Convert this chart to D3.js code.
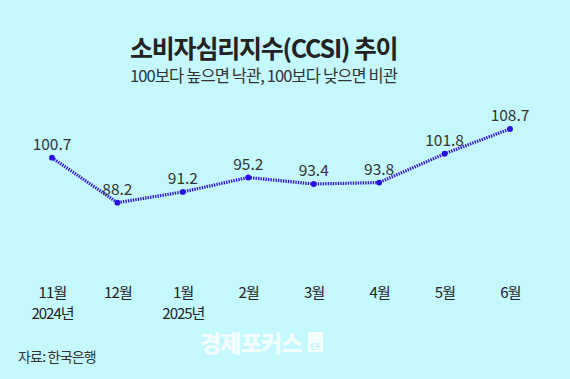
<!DOCTYPE html>
<html><head><meta charset="utf-8">
<script src="https://cdn.jsdelivr.net/npm/d3@7"></script>
<style>
html,body{margin:0;padding:0;background:#c4f8fc;}
svg{display:block;}
text{font-family:"Noto Sans CJK KR","Noto Sans",sans-serif;}
</style></head>
<body>
<svg id="chart" width="570" height="379"></svg>
<script>
const months = ["11월","12월","1월","2월","3월","4월","5월","6월"];
const years = ["2024년","","2025년","","","","",""];
const values = [100.7, 88.2, 91.2, 95.2, 93.4, 93.8, 101.8, 108.7];
const title = "소비자심리지수(CCSI) 추이";
const subtitle = "100보다 높으면 낙관, 100보다 낮으면 비관";
const source = "자료: 한국은행";
const watermark = "경제포커스";

const W = 570, H = 379;
const svg = d3.select("#chart");
svg.append("rect").attr("width", W).attr("height", H).attr("fill", "#c4f8fc");

const x = d3.scalePoint().domain(months).range([52, 510]);
const y = d3.scaleLinear().domain([88.2, 108.7]).range([202.7, 128.9]);

svg.append("text").attr("x", 130).attr("y", 58)
  .attr("font-size", 25).attr("font-weight", 700).attr("fill", "#222")
  .attr("letter-spacing", "-1.2px").text(title);
svg.append("text").attr("x", 130).attr("y", 82)
  .attr("font-size", 16.5).attr("fill", "#333")
  .attr("letter-spacing", "-0.9px").text(subtitle);

const line = d3.line().x((d,i)=>x(months[i])).y(d=>y(d));
svg.append("path").datum(values).attr("d", line)
  .attr("fill","none").attr("stroke","#3214d4").attr("stroke-width",3.2)
  .attr("stroke-dasharray","1.4,1.1");
svg.selectAll("circle.pt").data(values).join("circle")
  .attr("cx",(d,i)=>x(months[i])).attr("cy",d=>y(d)).attr("r",2.9).attr("fill","#2a10e0");
svg.selectAll("text.val").data(values).join("text")
  .attr("x",(d,i)=>x(months[i])).attr("y",d=>y(d)-8)
  .attr("text-anchor","middle").attr("font-size",15.5).attr("fill","#333")
  .attr("font-family","'Noto Sans',sans-serif")
  .text(d=>d.toFixed(1));

const axis = d3.axisBottom(x).tickSize(0).tickPadding(0);
const g = svg.append("g").attr("transform","translate(0,287)").call(axis);
g.select(".domain").remove();
g.selectAll(".tick text").attr("font-size",15).attr("fill","#222")
  .attr("letter-spacing","-0.8px")
  .attr("font-family","'Noto Sans CJK KR',sans-serif")
  .attr("dy","0.71em");
g.selectAll(".tick").append("text")
  .attr("y",21).attr("dy","0.71em").attr("text-anchor","middle")
  .attr("font-size",15).attr("fill","#222").attr("letter-spacing","-1px")
  .attr("font-family","'Noto Sans CJK KR',sans-serif")
  .text((d,i)=>years[i]);

svg.append("text").attr("x",18).attr("y",362).attr("font-size",14)
  .attr("fill","#333").attr("letter-spacing","-0.8px").text(source);

svg.append("text").attr("x",200).attr("y",352).attr("font-size",23)
  .attr("font-weight",900).attr("fill","#fff").attr("opacity",0.8)
  .attr("letter-spacing","-0.8px").text(watermark);
svg.append("rect").attr("x",308).attr("y",332).attr("width",15).attr("height",20)
  .attr("fill","#fff").attr("opacity",0.8);
svg.append("text").attr("x",315.5).attr("y",350).attr("text-anchor","middle")
  .attr("font-size",9).attr("font-weight",700).attr("fill","#c4f8fc")
  .attr("font-family","'Noto Sans',sans-serif").text("EF");
</script>
</body></html>
